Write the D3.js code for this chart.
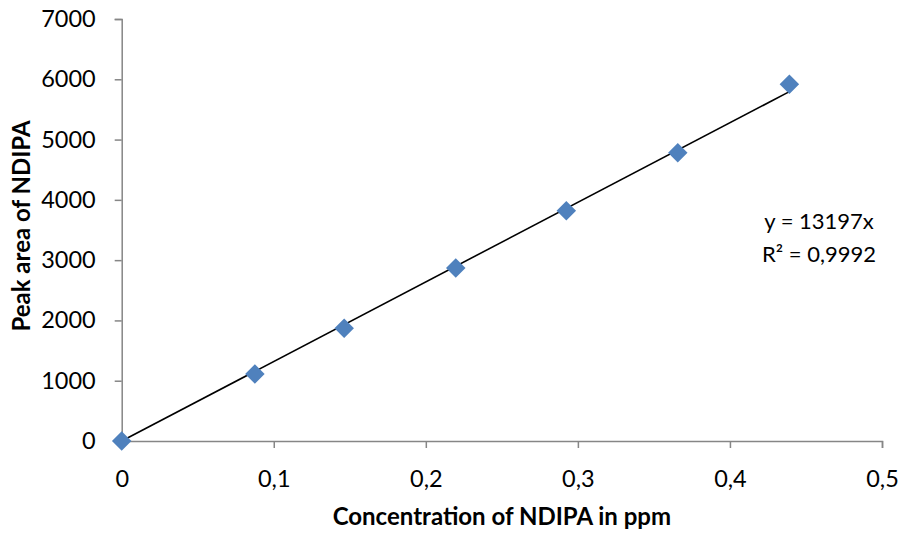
<!DOCTYPE html>
<html><head><meta charset="utf-8">
<script src="https://cdn.jsdelivr.net/npm/d3@7"></script>
<style>body{margin:0;background:#fff}svg{font-family:Lato,"Open Sans",sans-serif}</style>
</head><body><svg id="c" width="905" height="536"></svg>
<script>
const concentrations = [0, 0.0876, 0.1463, 0.2197, 0.2924, 0.3657, 0.4391];
const peakAreas = [0, 1111, 1870, 2870, 3820, 4782, 5916];
const xTicks = [0, 0.1, 0.2, 0.3, 0.4, 0.5];
const yTicks = [0, 1000, 2000, 3000, 4000, 5000, 6000, 7000];
const slope = 13197;
const eqLines = ["y = 13197x", "R² = 0,9992"];
const xTitle = "Concentration of NDIPA in ppm";
const yTitle = "Peak area of NDIPA";

const svg = d3.select("#c");
const x = d3.scaleLinear().domain([0, 0.5]).range([121.7, 882]);
const y = d3.scaleLinear().domain([0, 7000]).range([441, 19]);
const fmt = d => String(d).replace(".", ",");

const axisColor = "#868686";
const gx = svg.append("g").attr("transform", `translate(0,${y(0)})`)
  .call(d3.axisBottom(x).tickValues(xTicks).tickSize(7).tickPadding(22).tickFormat(fmt));
const gy = svg.append("g").attr("transform", `translate(${x(0)},0)`)
  .call(d3.axisLeft(y).tickValues(yTicks).tickSize(7).tickPadding(19).tickFormat(d => d));
[gx, gy].forEach(g => {
  g.select(".domain").attr("stroke", axisColor).attr("stroke-width", 1.5);
  g.selectAll(".tick line").attr("stroke", axisColor).attr("stroke-width", 1.5);
  g.selectAll(".tick text").attr("fill", "#000").style("font-size", "23.5px")
    .style("font-family", 'Lato,"Open Sans",sans-serif');
});

// trendline
const xMax = d3.max(concentrations);
svg.append("line")
  .attr("x1", x(0)).attr("y1", y(0))
  .attr("x2", x(xMax)).attr("y2", y(slope * xMax))
  .attr("stroke", "#000").attr("stroke-width", 1.6);

// diamonds
svg.append("g").selectAll("path").data(concentrations.map((c, i) => [c, peakAreas[i]]))
  .join("path")
  .attr("d", d3.symbol().type(d3.symbolSquare).size(190))
  .attr("transform", d => `translate(${x(d[0])},${y(d[1])}) rotate(45)`)
  .attr("fill", "#4F81BD");

// equation
svg.append("g").selectAll("text").data(eqLines).join("text")
  .attr("x", 819).attr("y", (d, i) => 229 + i * 33)
  .attr("text-anchor", "middle").style("font-size", "22px").attr("fill", "#000")
  .text(d => d);

// axis titles
svg.append("text").attr("x", (x.range()[0] + x.range()[1]) / 2).attr("y", 525).attr("text-anchor", "middle")
  .style("font-size", "24px").style("font-weight", "bold").text(xTitle);
svg.append("text").attr("transform", `translate(30,226) rotate(-90)`).attr("text-anchor", "middle")
  .style("font-size", "24px").style("font-weight", "bold").text(yTitle);
</script></body></html>
